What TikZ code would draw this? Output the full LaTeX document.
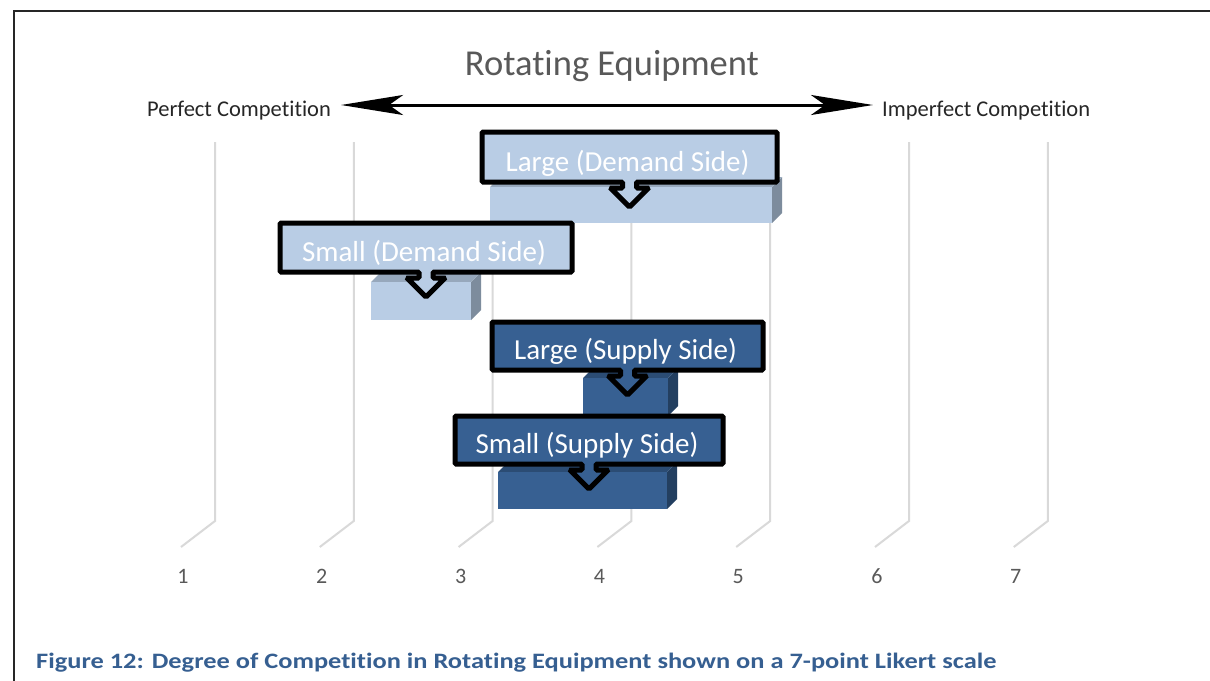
\documentclass[tikz,border=0pt]{standalone}
\usepackage{fontspec}
\setmainfont{Carlito}[Ligatures=NoCommon]
\newfontfamily\captionface{Carlito}[Ligatures=NoCommon, FakeStretch=1.2]
\usetikzlibrary{arrows.meta}

\definecolor{lightfront}{HTML}{B9CDE5}
\definecolor{lighttop}{HTML}{97A8BC}
\definecolor{lightside}{HTML}{7D8C9D}
\definecolor{darkfront}{HTML}{376092}
\definecolor{darktop}{HTML}{2B4C74}
\definecolor{darkside}{HTML}{233F60}
\definecolor{gridgrey}{HTML}{D9D9D9}
\definecolor{textgrey}{HTML}{595959}
\definecolor{labeldark}{HTML}{262626}
\definecolor{captionblue}{HTML}{365F91}

\tikzset{
  gridline/.style={draw=gridgrey, line width=2pt},
  calloutbox/.style={draw=black, line width=5pt, line join=miter, rounded corners=1.2pt},
  callouttext/.style={text=white, anchor=base, inner sep=0pt, font=\fontsize{29}{33}\selectfont},
  scalelabel/.style={text=textgrey, anchor=base, inner sep=0pt, font=\fontsize{22}{26}\selectfont},
  endlabel/.style={text=labeldark, inner sep=0pt, font=\fontsize{22.5}{26}\selectfont},
  bigarrow/.style={line width=3pt, {Stealth[length=62pt, width=20pt, inset=14pt]}-{Stealth[length=62pt, width=20pt, inset=14pt]}},
}

% 3D bar: front face (#1,#2)-(#3,#4), depth 10, colours top/side/front
\newcommand\threedbar[7]{%
  \fill[#6] (#3,#2) -- (#3+10,#2-10) -- (#3+10,#4-10) -- (#3,#4) -- cycle;
  \fill[#5] (#1,#2) -- (#1+10,#2-10) -- (#3+10,#2-10) -- (#3,#2) -- cycle;
  \fill[#7] (#1,#2) rectangle (#3,#4);
}

% down-arrow callout: box (#1,#2)-(#3,#4), fill #5, text #6, node name #7
\newcommand\arrowcallout[7]{%
  \pgfmathsetmacro\cx{(#1+#3)/2}
  \draw[calloutbox, fill=#5] (#1,#2) -- (#3,#2) -- (#3,#4) -- (\cx+7,#4)
    -- (\cx+7,#4+6) -- (\cx+19,#4+6) -- (\cx,#4+25) -- (\cx-19,#4+6)
    -- (\cx-7,#4+6) -- (\cx-7,#4) -- (#1,#4) -- cycle;
  \node[callouttext] (#7) at (\cx-2,#4-11) {#6};
}

\begin{document}
\begin{tikzpicture}[x=1pt, y=-1pt]
  \useasboundingbox (0,0) rectangle (1210,680);
  \fill[white] (0,0) rectangle (1210,680);

  % frame
  \draw[line width=2.2pt, draw=black!85] (14,682) -- (14,11) -- (1212,11);

  % title
  \node[text=textgrey, anchor=base, inner sep=0pt, font=\fontsize{36.5}{42}\selectfont]
    (title) at (612,75) {Rotating Equipment};

  % competition axis
  \node[endlabel, anchor=base west] (perfect) at (147,116) {Perfect Competition};
  \node[endlabel, anchor=base west] (imperfect) at (882,116) {Imperfect Competition};
  \coordinate (axisL) at ([xshift=10pt, yshift=11pt]perfect.base east);
  \coordinate (axisR) at ([xshift=-9pt, yshift=11pt]imperfect.base west);
  \draw[bigarrow] (axisL) -- (axisR);

  % Likert grid with floor ticks and scale labels
  \foreach \i in {1,...,7} {
    \pgfmathsetmacro\gx{215+138.8*(\i-1)}
    \draw[gridline] (\gx,142) -- (\gx,521) -- (\gx-34,547);
    \node[scalelabel] (scale\i) at (\gx-32,583) {\i};
  }

  % bars
  \threedbar{490}{187}{772}{223}{lighttop}{lightside}{lightfront}
  \threedbar{371}{282}{471}{320}{lighttop}{lightside}{lightfront}
  \threedbar{583}{378}{668}{416}{darktop}{darkside}{darkfront}
  \threedbar{498}{472}{667}{509}{darktop}{darkside}{darkfront}

  % callouts
  \arrowcallout{482}{132}{777}{182}{lightfront}{Large (Demand Side)}{largedemand}
  \arrowcallout{280}{223}{572}{272}{lightfront}{Small (Demand Side)}{smalldemand}
  \arrowcallout{492}{322}{763}{370}{darkfront}{Large (Supply Side)}{largesupply}
  \arrowcallout{455}{416}{723}{464}{darkfront}{Small (Supply Side)}{smallsupply}

  % caption
  \node[text=captionblue, anchor=base west, inner sep=0pt, font=\captionface\bfseries\fontsize{22}{26}\selectfont]
    (caption) at (36,668) {Figure 12: Degree of Competition in Rotating Equipment shown on a 7-point Likert scale};
\end{tikzpicture}
\end{document}
